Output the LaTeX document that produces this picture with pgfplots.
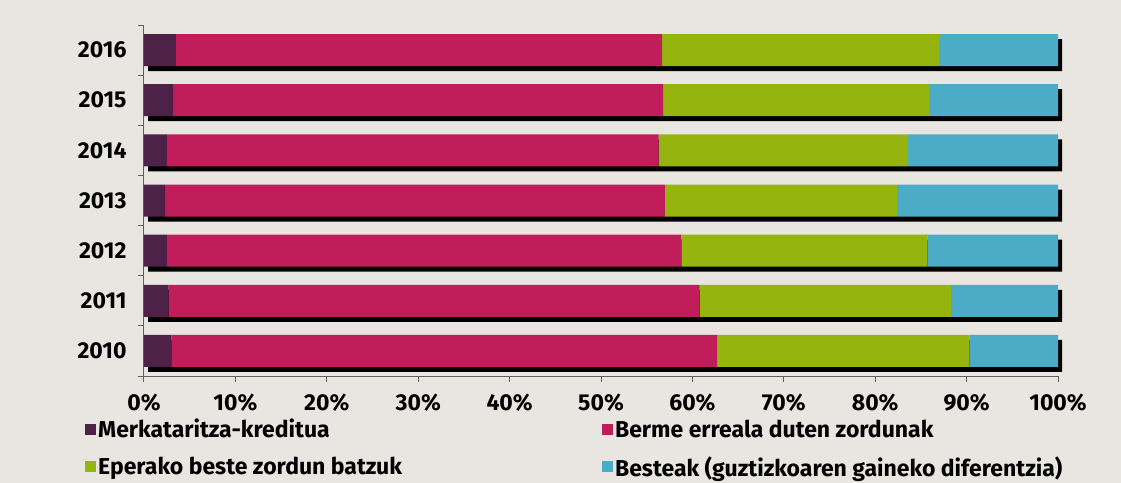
\documentclass[border=0pt]{standalone}
\usepackage{pgfplots}
\pgfplotsset{compat=1.18}
\usepackage{fontspec}
\setmainfont{Fira Sans}
\definecolor{bgc}{RGB}{233,230,225}
\definecolor{c1}{RGB}{78,34,72}
\definecolor{c2}{RGB}{193,29,91}
\definecolor{c3}{RGB}{150,180,14}
\definecolor{c4}{RGB}{74,172,198}
\definecolor{axc}{RGB}{95,95,95}
\pgfplotsset{
  common/.style={
    scale only axis, width=914bp, height=351bp,
    xmin=0, xmax=100, ymin=-0.5, ymax=6.5,
    bar width=32bp,
  }
}
\begin{document}
\begin{tikzpicture}
\fill[bgc] (-144bp,-107bp) rectangle (977bp,376bp);
% shadow axis
\begin{axis}[common, xbar, hide axis, xshift=4bp, yshift=-5bp]
\addplot[fill=black, draw=none] coordinates {(100,0) (100,1) (100,2) (100,3) (100,4) (100,5) (100,6)};
\end{axis}
\begin{axis}[
  common,
  xbar stacked,
  axis x line*=bottom, axis y line*=left,
  axis line style={draw=axc, line width=1bp},
  font=\fontsize{23bp}{27bp}\selectfont\bfseries,
  /pgf/number format/assume math mode=true,
  tick align=outside, major tick length=6bp,
  every tick/.style={draw=axc, line width=1bp},
  xtick={0,10,...,100},
  xticklabel={\pgfmathprintnumber{\tick}\%},
  xticklabel style={yshift=-8bp},
  ytick={0,...,6},
  yticklabels={2010,2011,2012,2013,2014,2015,2016},
  ytick style={draw=none},
  yticklabel style={xshift=-8bp},
  extra y ticks={-0.5,0.5,...,6.5},
  extra y tick labels={},
  extra y tick style={ytick style={draw=axc, line width=1bp}},
  every axis plot/.append style={draw=none, forget plot},
  legend columns=2,
  legend style={at={(axis description cs:0,0)}, anchor=north west,
    xshift=-62bp, yshift=-39bp, draw=none, fill=none,
    font=\fontsize{23bp}{27bp}\selectfont\bfseries,
    row sep=13bp,
    /tikz/every even column/.append style={column sep=198bp}},
  legend cell align=left,
]
\addplot[fill=c1] coordinates {(3.0,0) (2.7,1) (2.5,2) (2.3,3) (2.5,4) (3.2,5) (3.5,6)};
\addplot[fill=c2] coordinates {(59.7,0) (58.1,1) (56.3,2) (54.7,3) (53.8,4) (53.6,5) (53.2,6)};
\addplot[fill=c3] coordinates {(27.6,0) (27.5,1) (26.9,2) (25.4,3) (27.3,4) (29.1,5) (30.3,6)};
\addplot[fill=c4] coordinates {(9.7,0) (11.7,1) (14.3,2) (17.6,3) (16.4,4) (14.1,5) (13.0,6)};
\addlegendimage{legend image code/.code={\fill[c1] (0bp,-5.5bp) rectangle (11bp,5.5bp);}}
\addlegendentry{Merkataritza-kreditua}
\addlegendimage{legend image code/.code={\fill[c2] (0bp,-5.5bp) rectangle (11bp,5.5bp);}}
\addlegendentry{Berme erreala duten zordunak}
\addlegendimage{legend image code/.code={\fill[c3] (0bp,-5.5bp) rectangle (11bp,5.5bp);}}
\addlegendentry{Eperako beste zordun batzuk}
\addlegendimage{legend image code/.code={\fill[c4] (0bp,-5.5bp) rectangle (11bp,5.5bp);}}
\addlegendentry{Besteak (guztizkoaren gaineko diferentzia)}
\end{axis}
\pgfresetboundingbox
\path (-144bp,-107bp) rectangle (977bp,376bp);
\end{tikzpicture}
\end{document}
